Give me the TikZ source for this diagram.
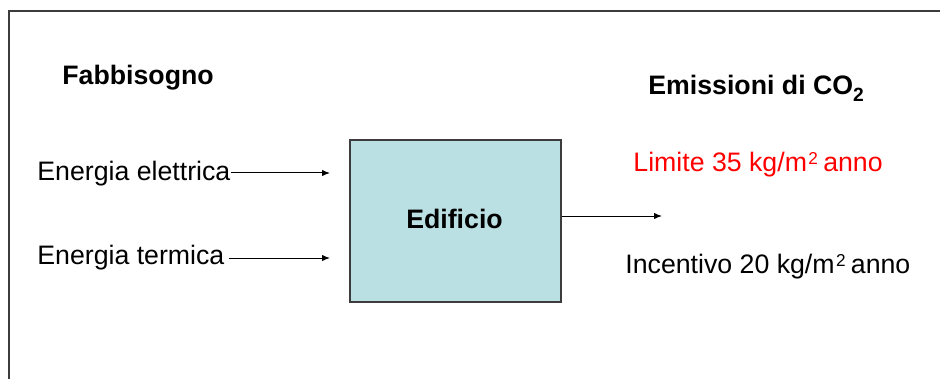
\documentclass[tikz,border=0pt]{standalone}
\usepackage{fontspec}
\setmainfont{Liberation Sans}
\usetikzlibrary{arrows.meta}
\definecolor{boxfill}{HTML}{BBE0E3}
\definecolor{framegray}{HTML}{3C3C3C}
\newcommand\supii[1]{\raisebox{3.5pt}{\fontsize{8.6}{9}\selectfont #1}}
\newcommand\subii[1]{\raisebox{-3.2pt}{\fontsize{9.6}{10}\selectfont #1}}
\begin{document}
\begin{tikzpicture}[x=0.5pt,y=-0.5pt,
  txt/.style={inner sep=0pt,anchor=base west,font=\fontsize{13.35}{16}\selectfont},
  btxt/.style={txt,font=\fontsize{13.35}{16}\selectfont\bfseries},
  arr/.style={line width=0.5pt,-{Latex[length=4pt,width=3.2pt]}},
  framebox/.style={draw=framegray,line width=0.9pt}]
\useasboundingbox (0,0) rectangle (940,379);
\draw[framebox] (9,385) -- (9,11) -- (945,11);
\node[btxt] (fab) at (62,85) {Fabbisogno};
\node[btxt] (emi) at (648,95) {Emissioni di CO\subii{2}};
\node[txt] (ee) at (37,180) {Energia elettrica};
\node[txt] (et) at (37,264) {Energia termica};
\node[txt,text=red] (lim) at (633,171) {Limite 35 kg/m\hspace{0.05em}\supii{2}\hspace{0.2em}anno};
\node[txt] (inc) at (625,273) {Incentivo 20 kg/m\hspace{0.05em}\supii{2}\hspace{0.2em}anno};
\node[draw=framegray,line width=0.8pt,fill=boxfill,minimum width=211*0.5pt,minimum height=162*0.5pt,inner sep=0pt,anchor=north west] (box) at (349,139) {};
\node[btxt,anchor=base] (edi) at (454.5,228) {Edificio};
\coordinate (eeend) at (330,173);
\coordinate (etend) at (330,258);
\coordinate (outend) at (662,216);
\draw[arr] (ee.east |- eeend) -- (eeend);
\draw[arr] ([xshift=2pt]et.east |- etend) -- (etend);
\draw[arr] (box.east |- outend) -- (outend);
\end{tikzpicture}
\end{document}
